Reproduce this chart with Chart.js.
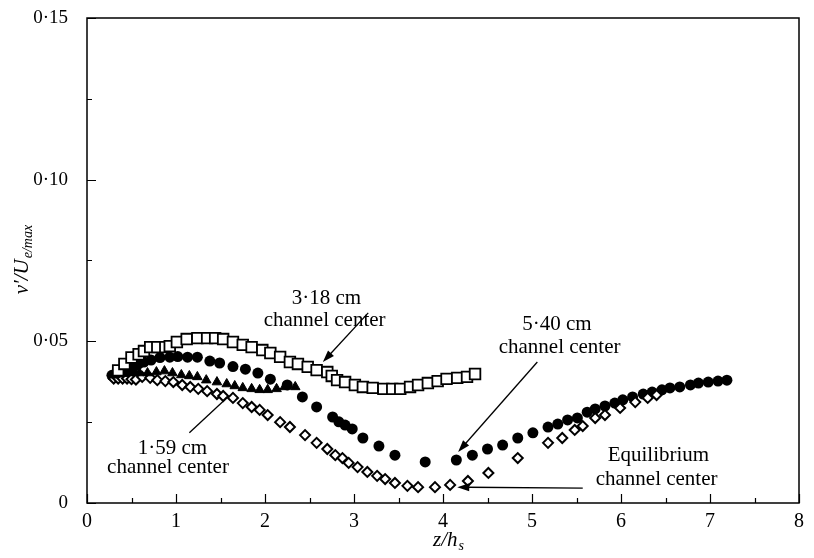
<!DOCTYPE html>
<html>
<head>
<meta charset="utf-8">
<script src="https://cdn.jsdelivr.net/npm/chart.js@4.4.1/dist/chart.umd.min.js"></script>
<style>
  html, body { margin: 0; padding: 0; background: #fff; }
  #wrap { width: 814px; height: 558px; position: relative; }
</style>
</head>
<body>
<div id="wrap"><canvas id="chart"></canvas></div>
<script>
const SERIF = "'Liberation Serif', 'Times New Roman', serif";

// 3·18 cm channel center (open squares)
const SQ_X = [0.35, 0.42, 0.50, 0.58, 0.64, 0.71, 0.79, 0.88, 0.93, 1.01, 1.12, 1.24, 1.35, 1.44, 1.53, 1.64, 1.75, 1.85, 1.97, 2.06, 2.17, 2.28, 2.37, 2.48, 2.58, 2.70, 2.75, 2.81, 2.90, 3.01, 3.10, 3.21, 3.33, 3.43, 3.52, 3.63, 3.72, 3.83, 3.94, 4.04, 4.16, 4.27, 4.36];
const SQ_Y = [0.0410, 0.0430, 0.0450, 0.0460, 0.0470, 0.0482, 0.0482, 0.0482, 0.0485, 0.0498, 0.0507, 0.0510, 0.0510, 0.0510, 0.0507, 0.0498, 0.0489, 0.0482, 0.0473, 0.0464, 0.0452, 0.0436, 0.0430, 0.0421, 0.0411, 0.0405, 0.0393, 0.0380, 0.0374, 0.0365, 0.0359, 0.0356, 0.0353, 0.0353, 0.0353, 0.0359, 0.0365, 0.0371, 0.0377, 0.0384, 0.0387, 0.0390, 0.0399];

// 5·40 cm channel center (filled circles)
const CI_X = [0.28, 0.31, 0.34, 0.37, 0.40, 0.43, 0.46, 0.50, 0.54, 0.58, 0.64, 0.72, 0.82, 0.93, 1.02, 1.13, 1.24, 1.38, 1.49, 1.64, 1.78, 1.92, 2.06, 2.25, 2.42, 2.58, 2.76, 2.83, 2.90, 2.98, 3.10, 3.28, 3.46, 3.80, 4.15, 4.33, 4.50, 4.67, 4.84, 5.01, 5.18, 5.29, 5.40, 5.51, 5.62, 5.71, 5.82, 5.93, 6.02, 6.13, 6.25, 6.35, 6.46, 6.55, 6.66, 6.78, 6.87, 6.98, 7.09, 7.19];
const CI_Y = [0.0395, 0.0388, 0.0392, 0.0400, 0.0405, 0.0410, 0.0415, 0.0420, 0.0425, 0.0430, 0.0436, 0.0442, 0.0450, 0.0451, 0.0453, 0.0451, 0.0451, 0.0439, 0.0433, 0.0422, 0.0414, 0.0402, 0.0383, 0.0365, 0.0328, 0.0297, 0.0266, 0.0251, 0.0241, 0.0229, 0.0201, 0.0176, 0.0148, 0.0127, 0.0133, 0.0148, 0.0167, 0.0179, 0.0201, 0.0217, 0.0235, 0.0244, 0.0257, 0.0263, 0.0281, 0.0291, 0.0300, 0.0309, 0.0319, 0.0328, 0.0337, 0.0343, 0.0350, 0.0356, 0.0359, 0.0365, 0.0371, 0.0374, 0.0377, 0.0380];

// Equilibrium channel center (open diamonds)
const DI_X = [0.30, 0.35, 0.40, 0.45, 0.50, 0.55, 0.62, 0.71, 0.79, 0.88, 0.97, 1.07, 1.16, 1.25, 1.35, 1.46, 1.53, 1.64, 1.75, 1.85, 1.94, 2.03, 2.17, 2.28, 2.45, 2.58, 2.70, 2.79, 2.87, 2.94, 3.04, 3.15, 3.26, 3.35, 3.46, 3.60, 3.72, 3.91, 4.08, 4.28, 4.51, 4.84, 5.18, 5.34, 5.48, 5.57, 5.71, 5.82, 5.99, 6.16, 6.30, 6.40];
const DI_Y = [0.0385, 0.0385, 0.0385, 0.0385, 0.0383, 0.0382, 0.0390, 0.0387, 0.0380, 0.0377, 0.0374, 0.0365, 0.0359, 0.0353, 0.0346, 0.0337, 0.0331, 0.0325, 0.0309, 0.0297, 0.0288, 0.0272, 0.0250, 0.0235, 0.0210, 0.0186, 0.0167, 0.0148, 0.0139, 0.0124, 0.0111, 0.0096, 0.0084, 0.0074, 0.0062, 0.0053, 0.0049, 0.0049, 0.0056, 0.0068, 0.0093, 0.0139, 0.0186, 0.0201, 0.0226, 0.0238, 0.0263, 0.0272, 0.0294, 0.0312, 0.0325, 0.0334];

// 1·59 cm channel center (filled triangles)
const TR_X = [0.30, 0.36, 0.42, 0.48, 0.54, 0.59, 0.68, 0.78, 0.87, 0.96, 1.06, 1.15, 1.24, 1.34, 1.46, 1.57, 1.66, 1.75, 1.85, 1.94, 2.03, 2.13, 2.22, 2.34];
const TR_Y = [0.0395, 0.0398, 0.0400, 0.0402, 0.0403, 0.0402, 0.0402, 0.0405, 0.0408, 0.0402, 0.0396, 0.0393, 0.0390, 0.0380, 0.0374, 0.0368, 0.0362, 0.0356, 0.0353, 0.0350, 0.0350, 0.0353, 0.0359, 0.0359];

const X_TICKS = [0, 1, 2, 3, 4, 5, 6, 7, 8];
const Y_TICKS = [0, 0.05, 0.10, 0.15];

// labels in data units: [text, x, y]
const NOTE_TEXT = [
  ["3·18 cm", 2.69, 0.0634], ["channel center", 2.67, 0.0563],
  ["5·40 cm", 5.28, 0.0551], ["channel center", 5.31, 0.0482],
  ["1·59 cm", 0.96, 0.0170], ["channel center", 0.91, 0.0111],
  ["Equilibrium", 6.42, 0.0148], ["channel center", 6.40, 0.0074],
];
// leader lines: [x0, y0, x1, y1, arrowhead]
const NOTE_LINES = [
  [3.16, 0.0588, 2.65, 0.0436, true],
  [5.06, 0.0436, 4.17, 0.0158, true],
  [1.15, 0.0217, 1.57, 0.0325, false],
  [5.57, 0.0046, 4.16, 0.0049, true],
];

const pts = (xs, ys) => xs.map((x, i) => ({ x, y: ys[i] }));

function fmtY(v) {
  if (Math.abs(v) < 1e-9) return "0";
  return v.toFixed(2).replace(".", "·");
}

const decor = {
  id: "decor",
  afterDraw(chart) {
    const { ctx, chartArea: a, scales } = chart;
    const xs = scales.x, ys = scales.y;
    ctx.save();
    ctx.strokeStyle = "#000";
    ctx.fillStyle = "#000";
    ctx.lineWidth = 1.5;
    ctx.strokeRect(a.left, a.top, a.right - a.left, a.bottom - a.top);

    // inward ticks, major + minor
    ctx.lineWidth = 1.2;
    ctx.beginPath();
    for (let i = 0; i <= 16; i++) {
      const px = Math.round(xs.getPixelForValue(i / 2)) + 0.5;
      ctx.moveTo(px, a.bottom);
      ctx.lineTo(px, a.bottom - (i % 2 === 0 ? 9 : 5));
    }
    for (let i = 0; i <= 6; i++) {
      const py = Math.round(ys.getPixelForValue(i * 0.025)) + 0.5;
      ctx.moveTo(a.left, py);
      ctx.lineTo(a.left + (i % 2 === 0 ? 9 : 5), py);
    }
    ctx.stroke();

    // axis titles
    ctx.textBaseline = "alphabetic";
    ctx.textAlign = "left";
    const big = "italic 21px " + SERIF, small = "italic 14px " + SERIF;
    const xa = "z/h";
    ctx.font = big; const wa = ctx.measureText(xa).width;
    ctx.font = small; const wb = ctx.measureText("s").width;
    let x0 = 448 - (wa + wb) / 2;
    ctx.font = big; ctx.fillText(xa, x0, 546);
    ctx.font = small; ctx.fillText("s", x0 + wa + 1, 550);

    ctx.save();
    ctx.translate(28, 260);
    ctx.rotate(-Math.PI / 2);
    const ya = "v′/U", yb = "e/max";
    ctx.font = big; const w1 = ctx.measureText(ya).width;
    ctx.font = small; const w2 = ctx.measureText(yb).width;
    x0 = -(w1 + w2) / 2;
    ctx.font = big; ctx.fillText(ya, x0, 0);
    ctx.font = small; ctx.fillText(yb, x0 + w1 + 1, 4);
    ctx.restore();

    // annotations
    ctx.font = "21px " + SERIF;
    ctx.textAlign = "center";
    ctx.textBaseline = "middle";
    for (const [t, x, y] of NOTE_TEXT) {
      ctx.fillText(t, xs.getPixelForValue(x), ys.getPixelForValue(y));
    }
    ctx.lineWidth = 1.3;
    for (const [xa0, ya0, xa1, ya1, head] of NOTE_LINES) {
      const p0x = xs.getPixelForValue(xa0), p0y = ys.getPixelForValue(ya0);
      const p1x = xs.getPixelForValue(xa1), p1y = ys.getPixelForValue(ya1);
      const ang = Math.atan2(p1y - p0y, p1x - p0x);
      const hl = head ? 12 : 0;
      ctx.beginPath();
      ctx.moveTo(p0x, p0y);
      ctx.lineTo(p1x - Math.cos(ang) * hl * 0.8, p1y - Math.sin(ang) * hl * 0.8);
      ctx.stroke();
      if (head) {
        ctx.beginPath();
        ctx.moveTo(p1x, p1y);
        ctx.lineTo(p1x - hl * Math.cos(ang) + 4 * Math.sin(ang), p1y - hl * Math.sin(ang) - 4 * Math.cos(ang));
        ctx.lineTo(p1x - hl * Math.cos(ang) - 4 * Math.sin(ang), p1y - hl * Math.sin(ang) + 4 * Math.cos(ang));
        ctx.closePath();
        ctx.fill();
      }
    }
    ctx.restore();
  },
};

const ctx = document.getElementById("chart");
new Chart(ctx, {
  type: "scatter",
  data: {
    datasets: [
      {
        label: "3·18 cm",
        data: pts(SQ_X, SQ_Y),
        pointStyle: "rect",
        pointRadius: 7.5,
        backgroundColor: "#fff",
        borderColor: "#000",
        borderWidth: 1.8,
      },
      {
        label: "1·59 cm",
        data: pts(TR_X, TR_Y),
        pointStyle: "triangle",
        pointRadius: 5.5,
        backgroundColor: "#000",
        borderColor: "#000",
        borderWidth: 1,
      },
      {
        label: "Equilibrium",
        data: pts(DI_X, DI_Y),
        pointStyle: "rectRot",
        pointRadius: 5,
        backgroundColor: "#fff",
        borderColor: "#000",
        borderWidth: 2,
      },
      {
        label: "5·40 cm",
        data: pts(CI_X, CI_Y),
        pointStyle: "circle",
        pointRadius: 5.5,
        backgroundColor: "#000",
        borderColor: "#000",
        borderWidth: 0,
      },
    ],
  },
  options: {
    responsive: true,
    maintainAspectRatio: false,
    animation: false,
    layout: { padding: { left: 0, top: 18, right: 15, bottom: 0 } },
    plugins: {
      legend: { display: false },
      tooltip: { enabled: false },
    },
    scales: {
      x: {
        type: "linear",
        min: 0,
        max: 8,
        afterFit: (s) => { s.height = 55; s.paddingLeft = 0; s.paddingRight = 0; },
        afterBuildTicks: (s) => { s.ticks = X_TICKS.map((v) => ({ value: v })); },
        ticks: {
          color: "#000",
          padding: 7,
          font: { family: SERIF, size: 20 },
          callback: (v) => String(v),
        },
        grid: { display: false, drawTicks: false },
        border: { display: false },
      },
      y: {
        type: "linear",
        min: 0,
        max: 0.15,
        afterFit: (s) => { s.width = 87; s.paddingTop = 0; s.paddingBottom = 0; },
        afterBuildTicks: (s) => { s.ticks = Y_TICKS.map((v) => ({ value: v })); },
        ticks: {
          color: "#000",
          padding: 19,
          font: { family: SERIF, size: 19 },
          callback: (v) => fmtY(v),
        },
        grid: { display: false, drawTicks: false },
        border: { display: false },
      },
    },
  },
  plugins: [decor],
});
</script>
</body>
</html>
